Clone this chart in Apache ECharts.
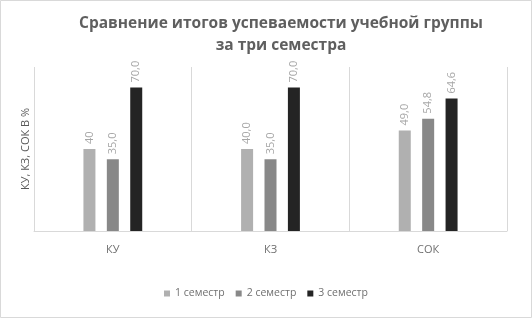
<!DOCTYPE html>
<html><head><meta charset="utf-8">
<script src="https://cdn.jsdelivr.net/npm/echarts@6/dist/echarts.min.js"></script>
<style>html,body{margin:0;padding:0;background:#fff}#c{width:532px;height:318px}</style>
</head><body><div id="c"></div>
<script>
var categories = ['КУ', 'КЗ', 'СОК'];
var sem1 = [40, 40, 49];
var sem2 = [35, 35, 54.8];
var sem3 = [70, 70, 64.6];
var sem1Labels = ['40', '40,0', '49,0'];
var sem2Labels = ['35,0', '35,0', '54,8'];
var sem3Labels = ['70,0', '70,0', '64,6'];
var seriesNames = ['1 семестр', '2 семестр', '3 семестр'];
var colors = ['#b0b0b0', '#888888', '#242424'];

var chart = echarts.init(document.getElementById('c'), null, {renderer: 'canvas'});
function mk(name, data, labels, color) {
  return {
    name: name, type: 'bar', data: data, barWidth: 12, barGap: '95%',
    itemStyle: {color: color},
    label: {
      show: true, position: 'top', rotate: 90, distance: 5,
      align: 'left', verticalAlign: 'middle',
      color: '#a6a6a6', fontSize: 11, fontFamily: 'Open Sans',
      formatter: function (p) { return labels[p.dataIndex]; }
    }
  };
}
chart.setOption({
  animation: false,
  backgroundColor: '#fff',
  title: {
    text: 'Сравнение итогов успеваемости учебной группы\nза три семестра',
    left: 276, textAlign: 'center', top: 8,
    textStyle: {fontFamily: 'Open Sans', fontSize: 15.5, fontWeight: 'bold', color: '#5f5f5f', lineHeight: 22}
  },
  legend: {
    bottom: 14, left: 'center', itemWidth: 6, itemHeight: 6, itemGap: 11,
    icon: 'rect',
    textStyle: {fontFamily: 'Open Sans', fontSize: 10.5, color: '#707070'},
    data: seriesNames
  },
  grid: {left: 34, right: 25, top: 67, bottom: 87},
  xAxis: {
    type: 'category', data: categories,
    axisLine: {lineStyle: {color: '#d9d9d9'}},
    axisTick: {show: false},
    splitLine: {show: true, lineStyle: {color: '#d9d9d9'}},
    axisLabel: {color: '#707070', fontFamily: 'Open Sans', fontSize: 11, margin: 13}
  },
  yAxis: {
    type: 'value', min: 0, max: 80,
    show: true,
    axisLabel: {show: false}, axisLine: {show: false}, axisTick: {show: false}, splitLine: {show: false},
    name: 'КУ, КЗ, СОК В %', nameLocation: 'middle', nameGap: 3, nameRotate: 90,
    nameTextStyle: {color: '#595959', fontFamily: 'Open Sans', fontSize: 11}
  },
  series: [
    mk(seriesNames[0], sem1, sem1Labels, colors[0]),
    mk(seriesNames[1], sem2, sem2Labels, colors[1]),
    mk(seriesNames[2], sem3, sem3Labels, colors[2])
  ],
  graphic: [{
    type: 'rect', shape: {x: 0.5, y: 0.5, width: 531, height: 317},
    style: {fill: 'none', stroke: '#d9d9d9', lineWidth: 1}, silent: true
  }]
});
</script></body></html>
